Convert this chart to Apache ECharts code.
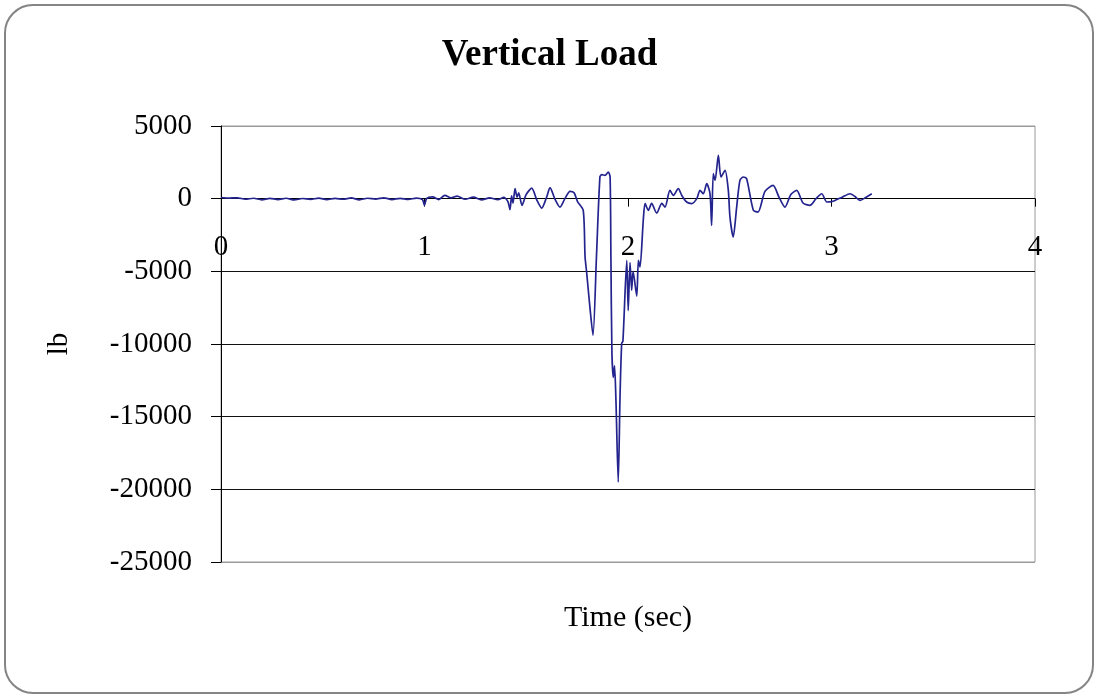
<!DOCTYPE html>
<html>
<head>
<meta charset="utf-8">
<title>Vertical Load</title>
<script src="https://cdn.jsdelivr.net/npm/echarts@6/dist/echarts.min.js"></script>
<style>
  html, body { margin: 0; padding: 0; background: #fff; }
  #chart { width: 1099px; height: 699px; }
</style>
</head>
<body>
<div id="chart"></div>
<script>
// time (sec)
const timeSec = [
  0.00, 0.04, 0.08, 0.12, 0.16, 0.20, 0.24, 0.28, 0.32, 0.36, 0.40, 0.44, 0.48,
  0.52, 0.56, 0.60, 0.64, 0.68, 0.72, 0.76, 0.80, 0.84, 0.88, 0.92, 0.96, 0.99,
  1.00, 1.01, 1.04, 1.07, 1.10, 1.13, 1.16, 1.20, 1.24, 1.28, 1.32, 1.36, 1.39,
  1.41, 1.420, 1.428, 1.435, 1.445, 1.455, 1.463, 1.479, 1.500, 1.527, 1.552,
  1.576, 1.600, 1.617, 1.640, 1.666, 1.690, 1.715, 1.735, 1.752, 1.780, 1.789,
  1.797, 1.813, 1.828, 1.845, 1.862, 1.871, 1.887, 1.903, 1.912, 1.916, 1.921,
  1.928, 1.934, 1.941, 1.952, 1.961, 1.969, 1.975, 1.994, 2.001, 2.010, 2.018,
  2.025, 2.043, 2.051, 2.059, 2.075, 2.084, 2.100, 2.116, 2.141, 2.166, 2.182,
  2.206, 2.223, 2.247, 2.264, 2.288, 2.313, 2.338, 2.354, 2.370, 2.387, 2.403,
  2.411, 2.419, 2.428, 2.444, 2.457, 2.477, 2.493, 2.501, 2.517, 2.534, 2.550,
  2.567, 2.583, 2.616, 2.639, 2.673, 2.713, 2.742, 2.771, 2.801, 2.829, 2.860,
  2.894, 2.924, 2.952, 2.977, 3.001, 3.017, 3.052, 3.091, 3.115, 3.140, 3.170,
  3.198
];
// vertical load (lb)
const loadLb = [
  80, 40, 60, -40, 30, -80, 20, -60, 30, -90, 10, -50, 40,
  -70, 20, -40, 50, -80, 30, -30, 60, -60, 20, -50, 40, -60,
  -450, 0, 120, -60, 230, 60, 180, -40, 100, -90, 60, -70, 90,
  -200, -760, 200, -300, 700, 100, 400, -460, 300, 720, -100,
  -650, 100, 760, 0, -580, 0, 500, 400, -200, -800, -4000,
  -5100, -7500, -9400, -4000, 1500, 1650, 1600, 1830, 1500, -4000, -10600,
  -12300, -11500, -14000, -19500, -13500, -9950, -9800, -4250, -7700, -4400, -6300,
  -5000, -6700, -4250, -4700, -1500, -330, -800, -330, -1000, -330, -580,
  570, 230, 690, 230, -230, -340, 0, 570, 340, 1030, 340,
  -1840, 1720, 1260, 2980, 1490, 1950, 570, -1260, -2640, -580, 1260,
  1490, 1370, -800, -920, 500, 915, 100, -580, 300, 570, -300,
  -460, 0, 340, -230, -200, -120, 100, 340, 150, -120, 100,
  340
];
const xTicks = [0, 4, 1];          // min, max, interval
const yTicks = [-25000, 5000, 5000];

const seriesData = timeSec.map((t, i) => [t, loadLb[i]]);

const chart = echarts.init(document.getElementById('chart'));
const serif = 'Liberation Serif';

// plot area
const gridTop = 126, gridBottom = 137;
const plotH = 699 - gridTop - gridBottom;
// lift the x axis (labels too) from the bottom edge up to the 0 line
const zeroOffset = -plotH * (0 - yTicks[0]) / (yTicks[1] - yTicks[0]);

const option = {
  backgroundColor: '#fff',
  animation: false,
  graphic: [{
    type: 'rect',
    z: -10,
    shape: { x: 5, y: 5, width: 1088, height: 688, r: 28 },
    style: { fill: '#fff', stroke: '#858585', lineWidth: 2 }
  }],
  title: {
    text: 'Vertical Load',
    left: 'center',
    top: 37,
    padding: 0,
    textStyle: { fontFamily: serif, fontSize: 37, fontWeight: 'bold', color: '#000' }
  },
  grid: {
    left: 221,
    right: 64,
    top: gridTop,
    bottom: gridBottom,
    outerBoundsMode: 'none',
    containLabel: false,
    show: true,
    backgroundColor: '#fff',
    borderColor: '#9a9a9a',
    borderWidth: 1
  },
  xAxis: {
    type: 'value',
    min: xTicks[0],
    max: xTicks[1],
    interval: xTicks[2],
    position: 'bottom',
    offset: zeroOffset,
    name: 'Time (sec)',
    nameLocation: 'middle',
    nameGap: 404,
    nameTextStyle: { fontFamily: serif, fontSize: 30, color: '#000' },
    axisLine: { onZero: false, lineStyle: { color: '#000', width: 1 } },
    axisTick: { show: true, length: 8, lineStyle: { color: '#000' } },
    axisLabel: {
      margin: 34, fontFamily: serif, fontSize: 29, color: '#000',
      showMinLabel: true, showMaxLabel: true,
      formatter: v => String(v)
    },
    splitLine: { show: false }
  },
  yAxis: {
    type: 'value',
    min: yTicks[0],
    max: yTicks[1],
    interval: yTicks[2],
    name: 'lb',
    nameLocation: 'middle',
    nameRotate: 90,
    nameGap: 147,
    nameTextStyle: { fontFamily: serif, fontSize: 29, color: '#000' },
    axisLine: { show: true, lineStyle: { color: '#000', width: 1 } },
    axisTick: { show: true, length: 10, lineStyle: { color: '#000' } },
    axisLabel: {
      margin: 29, fontFamily: serif, fontSize: 29, color: '#000',
      showMinLabel: true, showMaxLabel: true,
      formatter: v => String(v)
    },
    splitLine: {
      show: true,
      lineStyle: {
        // first / last line are the grey plot border
        color: ['#9a9a9a', '#111', '#111', '#111', '#111', '#111', '#9a9a9a'],
        width: 1
      }
    }
  },
  series: [{
    type: 'line',
    data: seriesData,
    showSymbol: false,
    smooth: 0.25,
    lineStyle: { color: '#24248e', width: 1.7 },
    z: 5
  }]
};

chart.setOption(option);
</script>
</body>
</html>
